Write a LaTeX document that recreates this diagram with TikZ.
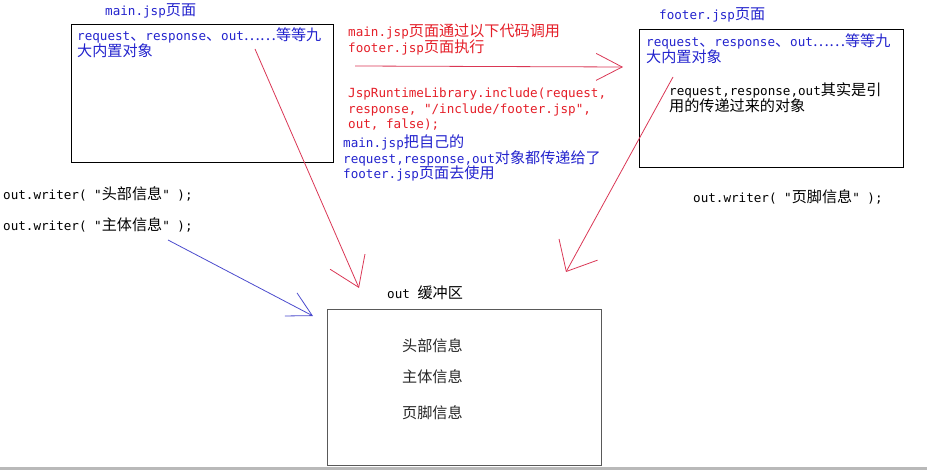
\documentclass[tikz,border=0pt]{standalone}
\usepackage{fontspec}
\setmonofont{DejaVu Sans Mono}
\newfontfamily\cjkfont{Noto Sans CJK SC}[Scale=1.2]
\newcommand\zh[1]{{\cjkfont #1}}
\usetikzlibrary{arrows.meta}
\definecolor{txtblue}{RGB}{35,35,205}
\definecolor{txtred}{RGB}{228,30,40}
\definecolor{linered}{RGB}{218,55,85}
\definecolor{lineblue}{RGB}{75,75,205}
\tikzset{
  txt/.style={inner sep=0pt, anchor=base west, align=left,
    font=\ttfamily\fontsize{12.6}{15.5}\selectfont},
  jspbox/.style={draw=black, line width=1.1pt, anchor=north west, inner sep=0pt},
  redarrow/.style={draw=linered, line width=0.8pt},
  bluearrow/.style={draw=lineblue, line width=0.8pt}
}

\begin{document}
\begin{tikzpicture}[x=1pt,y=-1pt]
  \useasboundingbox (0,0) rectangle (927,470);
  \fill[gray!55] (0,467) rectangle (927,470);
  % main.jsp (multi-line texts are placed by their last baseline)
  \node[jspbox, minimum width=262pt, minimum height=138pt] (mainbox) at (71,24) {};
  \node[txt, txtblue] (mainlbl) at (105,16) {main.jsp\zh{页面}};
  \node[txt, txtblue] (mainobj) at (77,56.5) {request\zh{、}response\zh{、}out\zh{⋯⋯等等九}\\\zh{大内置对象}};
  % footer.jsp
  \node[jspbox, minimum width=264pt, minimum height=138pt] (footbox) at (639,29) {};
  \node[txt, txtblue] (footlbl) at (659,20) {footer.jsp\zh{页面}};
  \node[txt, txtblue] (footobj) at (646,62.5) {request\zh{、}response\zh{、}out\zh{⋯⋯等等九}\\\zh{大内置对象}};
  \node[txt] (footref) at (669,111.5) {request,response,out\zh{其实是引}\\\zh{用的传递过来的对象}};
  \node[txt] (footw) at (693,203) {out.writer( "\zh{页脚信息}" );};
  % call in between
  \node[txt, txtred] (callnote) at (348,52.5) {main.jsp\zh{页面通过以下代码调用}\\footer.jsp\zh{页面执行}};
  \node[txt, txtred] (callcode) at (348,129) {JspRuntimeLibrary.include(request,\\response, "/include/footer.jsp",\\out, false);};
  \node[txt, txtblue] (passnote) at (343,179) {main.jsp\zh{把自己的}\\request,response,out\zh{对象都传递给了}\\footer.jsp\zh{页面去使用}};
  % writes of main.jsp
  \node[txt] (headw) at (3,200) {out.writer( "\zh{头部信息}" );};
  \node[txt] (bodyw) at (3,231) {out.writer( "\zh{主体信息}" );};
  % out buffer
  \node[jspbox, draw=black!65, line width=1.4pt, minimum width=274pt, minimum height=156pt] (bufbox) at (327,309) {};
  \node[txt] (buflbl) at (387,299) {out \zh{缓冲区}};
  \node[txt, black!85] (bufhead) at (402,352) {\zh{头部信息}};
  \node[txt, black!85] (bufbody) at (402,383) {\zh{主体信息}};
  \node[txt, black!85] (buffoot) at (402,419) {\zh{页脚信息}};
  % arrows
  \coordinate (mainout) at (255,49);
  \coordinate (mainhit) at (359,288);
  \coordinate (callfrom) at (355,66);
  \coordinate (callto) at (623,67);
  \coordinate (footout) at (673,77);
  \coordinate (foothit) at (566,272);
  \coordinate (bodyfrom) at (168,240);
  \coordinate (bodyhit) at (313,316);
  \draw[redarrow, -{Straight Barb[length=28pt,width=38pt]}] (mainout) -- (mainhit);
  \draw[redarrow, -{Straight Barb[length=26pt,width=27pt]}] (callfrom) -- (callto);
  \draw[redarrow, -{Straight Barb[length=25pt,width=44pt]}] (footout) -- (foothit);
  \draw[bluearrow, -{Straight Barb[length=24pt,width=26pt]}] (bodyfrom) -- (bodyhit);
\end{tikzpicture}
\end{document}
